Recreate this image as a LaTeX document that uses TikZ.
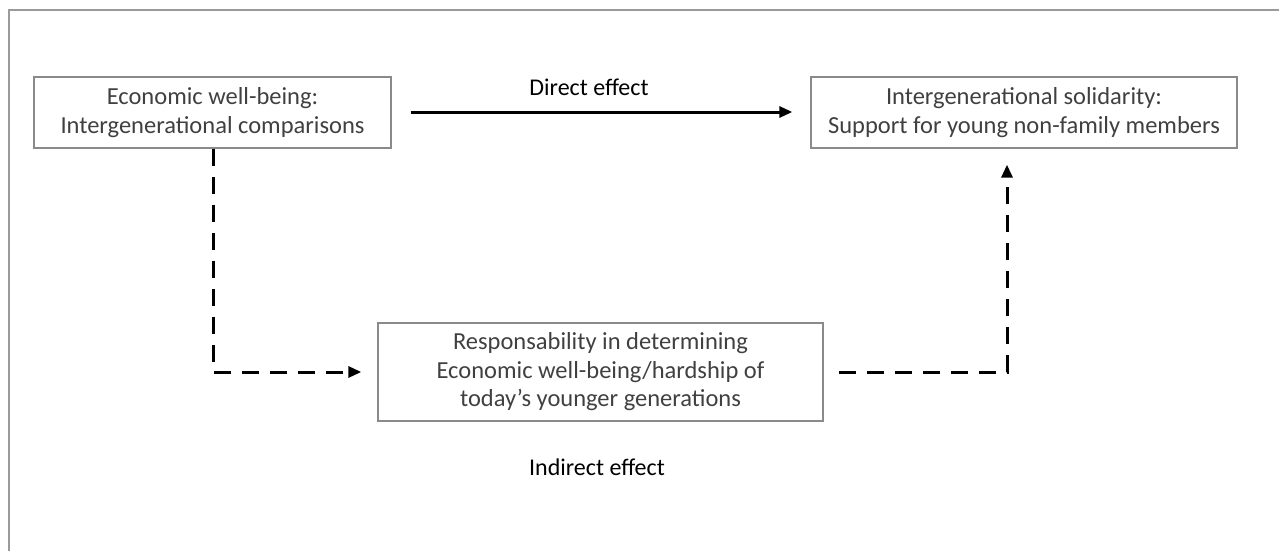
\documentclass[tikz,border=0pt]{standalone}
\usepackage{fontspec}
\setmainfont{Carlito}
\usetikzlibrary{arrows.meta}
\definecolor{txt}{HTML}{404040}
\definecolor{frame}{HTML}{9A9A9A}
\definecolor{boxline}{HTML}{8A8A8A}
\begin{document}
\begin{tikzpicture}[x=1pt,y=-1pt,
  boxnode/.style={draw=boxline,line width=1.3pt,align=center,text=txt,
    font=\fontsize{24.5}{28.5}\selectfont,inner sep=0pt},
  lbl/.style={font=\fontsize{24}{28}\selectfont,text=black},
  conn/.style={line width=3pt,-{Triangle[length=13pt,width=11pt]}},
  dashconn/.style={conn,dash pattern=on 17pt off 11pt}]
\useasboundingbox (0,0) rectangle (1279,551);
\draw[frame,line width=2pt] (9,551) -- (9,10) -- (1279,10);
\node[boxnode,minimum width=357pt,minimum height=71pt] (econ) at (212.5,112.5)
  {Economic well-being:\\Intergenerational comparisons};
\node[boxnode,minimum width=426pt,minimum height=71pt] (soli) at (1024,112.5)
  {Intergenerational solidarity:\\Support for young non-family members};
\node[boxnode,minimum width=445pt,minimum height=98pt] (resp) at (600.5,372)
  {Responsability in determining\\Economic well-being/hardship of\\today’s younger generations};
\node[lbl] (direct) at (589,87) {Direct e{}ffect};
\node[lbl] (indirect) at (597,467) {Indirect e{}ffect};
\coordinate (c1) at (213,372);
\coordinate (c2) at (1007,372);
\draw[conn,shorten <=19pt,shorten >=18pt] (econ.east |- 0,112) -- (soli.west |- 0,112);
\draw[dashconn,shorten >=16pt] (econ.south -| c1) -- (c1) -- (resp.west);
\draw[dashconn,shorten <=15pt,shorten >=16pt] (resp.east) -- (c2) -- (soli.south -| c2);
\end{tikzpicture}
\end{document}
